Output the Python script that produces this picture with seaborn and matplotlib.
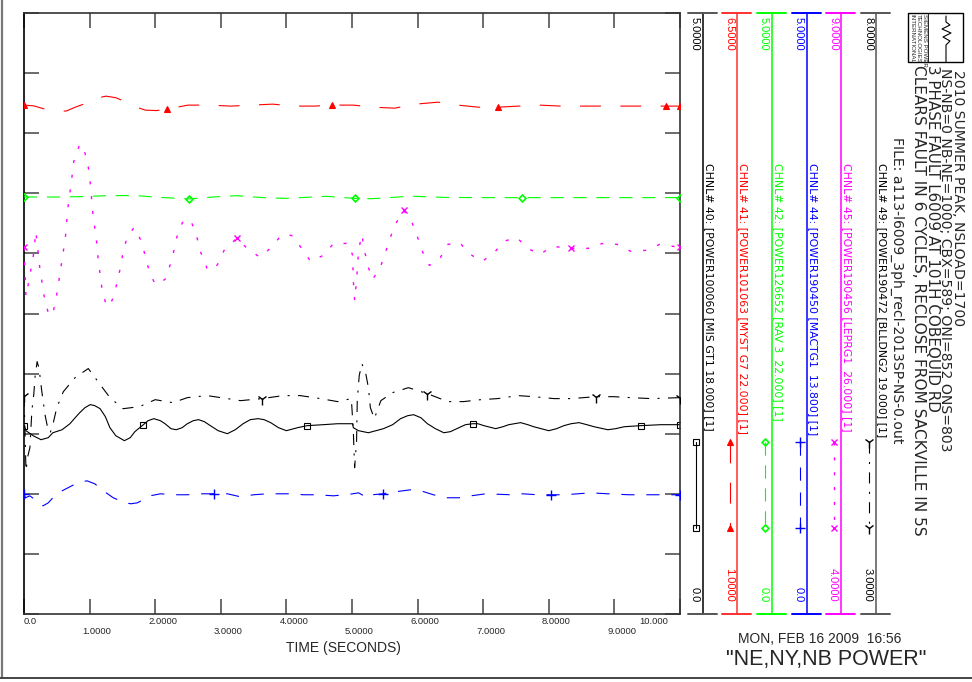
import numpy as np
import matplotlib
matplotlib.use("Agg")
from matplotlib import pyplot as plt
from matplotlib.transforms import blended_transform_factory, offset_copy
from matplotlib.patches import Rectangle
import seaborn as sns

sns.set_style("white")
plt.rcParams['font.family'] = ['Liberation Sans', 'DejaVu Sans']
plt.rcParams['lines.scale_dashes'] = False

# valores (tempo em segundos)
t_ch40 = [0.0, 0.03, 0.14, 0.26, 0.37, 0.44, 0.58, 0.70, 0.78, 0.85, 0.93, 1.01, 1.08, 1.16, 1.24,
          1.31, 1.40, 1.53, 1.62, 1.69, 1.82, 1.89, 1.98, 2.08, 2.15, 2.24, 2.32, 2.41, 2.49, 2.58,
          2.66, 2.75, 2.84, 2.96, 3.10, 3.22, 3.34, 3.45, 3.57, 3.66, 3.76, 3.88, 4.00, 4.17, 4.32,
          4.56, 4.78, 5.01, 5.02, 5.10, 5.25, 5.48, 5.62, 5.74, 5.85, 5.94, 6.05, 6.15, 6.27, 6.40,
          6.50, 6.63, 6.73, 6.84, 6.92, 7.01, 7.19, 7.30, 7.39, 7.57, 7.68, 7.77, 8.00, 8.12, 8.23,
          8.34, 8.46, 8.58, 8.69, 8.90, 9.02, 9.15, 9.40, 9.71, 10.0]
v_ch40 = [1.567, 1.525, 1.483, 1.450, 1.467, 1.508, 1.533, 1.583, 1.633, 1.675, 1.717, 1.742, 1.733,
          1.708, 1.642, 1.550, 1.483, 1.442, 1.467, 1.517, 1.575, 1.608, 1.625, 1.608, 1.583, 1.542,
          1.533, 1.550, 1.583, 1.608, 1.617, 1.600, 1.567, 1.525, 1.500, 1.533, 1.583, 1.617, 1.625,
          1.617, 1.592, 1.550, 1.525, 1.550, 1.567, 1.575, 1.583, 1.583, 1.550, 1.525, 1.508, 1.542,
          1.575, 1.625, 1.650, 1.658, 1.633, 1.583, 1.542, 1.508, 1.517, 1.550, 1.575, 1.583, 1.583,
          1.567, 1.542, 1.558, 1.575, 1.592, 1.575, 1.558, 1.525, 1.542, 1.567, 1.583, 1.592, 1.575,
          1.558, 1.533, 1.542, 1.558, 1.567, 1.575, 1.575]
mk_ch40 = [0.0, 1.82, 4.32, 6.84, 9.40, 10.0]

t_ch41 = [0.0, 0.15, 0.32, 0.49, 0.64, 0.79, 0.95, 1.10, 1.25, 1.40, 1.56, 1.71, 1.85, 2.02, 2.18,
          2.35, 2.50, 2.82, 3.15, 3.47, 3.79, 4.11, 4.43, 4.70, 5.02, 5.33, 5.65, 5.97, 6.31, 6.61,
          6.93, 7.22, 7.54, 7.86, 8.18, 8.52, 8.84, 9.15, 9.48, 9.79, 10.0]
v_ch41 = [5.657, 5.650, 5.620, 5.611, 5.602, 5.640, 5.675, 5.720, 5.739, 5.725, 5.684, 5.640, 5.611,
          5.607, 5.620, 5.640, 5.657, 5.657, 5.648, 5.657, 5.666, 5.648, 5.648, 5.657, 5.657, 5.638,
          5.629, 5.666, 5.684, 5.657, 5.638, 5.638, 5.648, 5.657, 5.648, 5.648, 5.648, 5.648, 5.648,
          5.648, 5.648]
mk_ch41 = [0.0, 2.18, 4.70, 7.22, 9.79, 10.0]

t_ch42 = [0.0, 0.50, 0.85, 1.30, 1.70, 2.10, 2.52, 2.90, 3.24, 3.70, 4.00, 4.60, 5.04, 5.30, 5.90,
          6.40, 7.00, 7.59, 8.50, 10.0]
v_ch42 = [3.469, 3.469, 3.472, 3.481, 3.481, 3.465, 3.453, 3.470, 3.480, 3.462, 3.458, 3.475, 3.458,
          3.455, 3.476, 3.466, 3.464, 3.464, 3.464, 3.464]
mk_ch42 = [0.0, 2.52, 5.04, 7.59, 10.0]

t_ch44 = [0.0, 0.02, 0.09, 0.17, 0.21, 0.29, 0.37, 0.44, 0.52, 0.67, 0.82, 0.96, 1.08, 1.21, 1.36,
          1.54, 1.63, 1.73, 1.92, 2.08, 2.31, 2.49, 2.69, 2.90, 3.10, 3.30, 3.50, 3.71, 4.06, 4.26,
          4.47, 4.72, 5.01, 5.10, 5.18, 5.24, 5.31, 5.47, 5.66, 5.89, 6.05, 6.24, 6.43, 6.63, 6.81,
          7.04, 7.42, 7.60, 7.83, 8.03, 8.23, 8.44, 8.64, 8.90, 9.22, 9.66, 10.0]
v_ch44 = [1.000, 0.967, 0.983, 0.950, 0.925, 0.900, 0.925, 0.967, 1.008, 1.050, 1.092, 1.108, 1.083,
          1.025, 0.967, 0.925, 0.917, 0.925, 0.983, 1.000, 0.992, 0.992, 1.000, 1.000, 1.000, 0.975,
          0.992, 1.000, 1.000, 0.992, 0.992, 0.983, 1.000, 1.008, 0.983, 0.967, 0.992, 1.000, 1.017,
          1.033, 1.025, 0.992, 0.967, 0.967, 0.983, 1.000, 0.992, 1.000, 0.992, 0.992, 0.992, 1.000,
          1.008, 1.000, 0.992, 0.992, 0.992]
mk_ch44 = [0.0, 2.90, 5.47, 8.03, 10.0]

t_ch45 = [0.0, 0.03, 0.09, 0.15, 0.18, 0.24, 0.31, 0.38, 0.44, 0.49, 0.56, 0.63, 0.67, 0.73, 0.76,
          0.84, 0.89, 0.93, 0.98, 1.01, 1.05, 1.08, 1.11, 1.13, 1.16, 1.19, 1.25, 1.30, 1.36, 1.42,
          1.47, 1.51, 1.57, 1.68, 1.79, 1.85, 1.91, 2.00, 2.15, 2.23, 2.29, 2.34, 2.43, 2.50, 2.56,
          2.64, 2.70, 2.79, 2.87, 2.95, 3.05, 3.24, 3.42, 3.60, 3.77, 3.92, 4.02, 4.11, 4.24, 4.37,
          4.56, 4.72, 4.95, 5.01, 5.02, 5.04, 5.07, 5.10, 5.15, 5.19, 5.24, 5.31, 5.42, 5.50, 5.57,
          5.65, 5.79, 5.92, 6.00, 6.08, 6.18, 6.34, 6.46, 6.64, 6.78, 6.98, 7.16, 7.31, 7.51, 7.68,
          7.86, 8.06, 8.34, 8.60, 8.82, 9.04, 9.25, 9.47, 9.69, 10.0]
v_ch45 = [7.050, 6.642, 6.817, 7.008, 7.183, 6.883, 6.633, 6.483, 6.500, 6.625, 6.875, 7.125, 7.383,
          7.633, 7.767, 7.892, 7.908, 7.833, 7.717, 7.583, 7.333, 7.208, 7.083, 6.950, 6.825, 6.700,
          6.575, 6.558, 6.633, 6.758, 6.883, 7.008, 7.133, 7.217, 7.100, 6.975, 6.850, 6.742, 6.783,
          6.908, 7.033, 7.158, 7.275, 7.283, 7.250, 7.125, 7.000, 6.875, 6.858, 6.908, 7.025, 7.125,
          7.033, 6.967, 7.050, 7.150, 7.158, 7.142, 7.033, 6.933, 6.983, 7.083, 7.083, 6.983, 6.775,
          6.608, 6.775, 7.025, 7.158, 7.025, 6.900, 6.783, 6.867, 6.992, 7.108, 7.233, 7.358, 7.250,
          7.133, 7.008, 6.900, 6.958, 7.075, 7.092, 7.000, 6.933, 7.000, 7.100, 7.133, 7.042, 6.992,
          7.058, 7.042, 7.042, 7.083, 7.075, 7.017, 7.025, 7.075, 7.050]
mk_ch45 = [0.0, 3.24, 5.79, 8.34, 10.0]

t_ch49 = [0.0, 0.015, 0.03, 0.06, 0.09, 0.12, 0.15, 0.17, 0.20, 0.23, 0.27, 0.32, 0.37, 0.40, 0.44,
          0.50, 0.60, 0.78, 0.98, 1.15, 1.31, 1.51, 1.76, 2.00, 2.27, 2.49, 2.79, 3.10, 3.30, 3.63,
          3.95, 4.21, 4.52, 4.78, 4.99, 5.02, 5.04, 5.07, 5.08, 5.11, 5.15, 5.21, 5.25, 5.28, 5.34,
          5.44, 5.62, 5.86, 6.15, 6.46, 6.70, 6.96, 7.22, 7.53, 7.77, 8.08, 8.34, 8.72, 8.99, 9.25,
          9.56, 10.0]
v_ch49 = [4.817, 4.525, 4.192, 4.317, 4.383, 4.692, 4.833, 4.983, 5.100, 5.042, 4.858, 4.658, 4.525,
          4.508, 4.575, 4.717, 4.850, 4.967, 5.042, 4.917, 4.800, 4.708, 4.725, 4.783, 4.758, 4.800,
          4.817, 4.792, 4.775, 4.792, 4.817, 4.817, 4.792, 4.767, 4.792, 4.525, 4.217, 4.442, 4.775,
          4.983, 5.083, 5.000, 4.883, 4.717, 4.625, 4.775, 4.842, 4.883, 4.833, 4.767, 4.767, 4.783,
          4.792, 4.817, 4.808, 4.792, 4.792, 4.808, 4.808, 4.800, 4.792, 4.800]
mk_ch49 = [0.0, 3.63, 6.15, 8.72, 10.0]

chan_nomes = ["CHNL# 40: [POWER100060 [MIS GT1 18.000] [1]",
              "CHNL# 41: [POWER101063 [MYST G7 22.000] [1]",
              "CHNL# 42: [POWER126652 [RAV 3  22.000] [1]",
              "CHNL# 44: [POWER190450 [MACTG1  13.800] [1]",
              "CHNL# 45: [POWER190456 [LEPRG1  26.000] [1]",
              "CHNL# 49: [POWER190472 [BLLDNG2 19.000] [1]"]
escala_min = [0.0, 1.0, 0.0, 0.0, 4.0, 3.0]
escala_max = [5.0, 6.5, 5.0, 5.0, 9.0, 8.0]
lbl_topo = ["5.0000", "6.5000", "5.0000", "5.0000", "9.0000", "8.0000"]
lbl_base = ["0.0", "1.0000", "0.0", "0.0", "4.0000", "3.0000"]
x_lbls = ["0.0", "1.0000", "2.0000", "3.0000", "4.0000", "5.0000",
          "6.0000", "7.0000", "8.0000", "9.0000", "10.000"]
cabecalho = ["2010 SUMMER PEAK, NSLOAD=1700",
             "NS-NB=0 NB-NE=1000; CBX=589; ONI=852 ONS=803",
             "3 PHASE FAULT L6009 AT 101H COBEQUID RD",
             "CLEARS FAULT IN 6 CYCLES, RECLOSE FROM SACKVILLE IN 5S",
             "FILE: a113-l6009_3ph_recl-2013SP-NS-0.out"]
logo_txt = ["SIEMENS POWER", "TECHNOLOGIES", "INTERNATIONAL"]

series = [(t_ch40, v_ch40, mk_ch40), (t_ch41, v_ch41, mk_ch41), (t_ch42, v_ch42, mk_ch42),
          (t_ch44, v_ch44, mk_ch44), (t_ch45, v_ch45, mk_ch45), (t_ch49, v_ch49, mk_ch49)]

# estilos
cores = ['black', 'red', '#00ff00', 'blue', 'magenta', 'black']
estilos = ['-', (0, (15, 14)), (0, (9.5, 7)), (0, (9.5, 8.5)), (0, (2.2, 8.5)), (0, (8, 6, 1.5, 6))]
larguras = [0.8, 0.8, 0.8, 0.8, 1.0, 0.8]
marcadores = [dict(marker='s', markersize=5, markerfacecolor='none', markeredgewidth=0.8),
              dict(marker='^', markersize=4.5, markeredgewidth=0.8),
              dict(marker='D', markersize=3.5, markerfacecolor='none', markeredgewidth=1.2),
              dict(marker='+', markersize=7, markeredgewidth=1.0),
              dict(marker='x', markersize=5, markeredgewidth=1.0),
              dict(marker='1', markersize=8, markeredgewidth=1.0)]
fonte_larga = ['DejaVu Sans']

W, H = 972, 682
fig = plt.figure(figsize=(W / 100, H / 100), dpi=100)
fig.patch.set_facecolor('white')

ax = fig.add_axes([24 / W, (H - 614) / H, (680 - 24) / W, (614 - 13) / H])
eixos = [ax]
for k in range(1, 6):
    eixos.append(ax.twinx())

for k, (tt, vv, mk) in enumerate(series):
    a = eixos[k]
    tt = np.array(tt)
    idx = [int(np.argmin(np.abs(tt - m))) for m in mk]
    sns.lineplot(x=tt, y=np.array(vv), ax=a, color=cores[k], linewidth=larguras[k], linestyle=estilos[k],
                 markevery=idx, markeredgecolor=cores[k], estimator=None, errorbar=None,
                 sort=False, **marcadores[k])
    a.set_ylim(escala_min[k], escala_max[k])
    if k > 0:
        a.set_yticks([])
        for sp in a.spines.values():
            sp.set_visible(False)
        a.tick_params(right=False, labelright=False)

ax.set_xlim(0, 10)
ax.set_xticks(range(11))
ax.set_yticks(np.arange(0, 5.01, 0.5))
ax.yaxis.set_ticks_position('both')
ax.tick_params(axis='both', direction='in', length=11, width=1.1, color='#444',
               top=True, bottom=True, left=True, right=True, labelbottom=False, labelleft=False)
for nome, sp in ax.spines.items():
    sp.set_color('#333')
    sp.set_linewidth(1.2)
ax.spines['left'].set_color('black')
ax.set_xlabel('')
ax.set_ylabel('')

# rotulos do eixo x em duas linhas
trans = blended_transform_factory(ax.transData, ax.transAxes)
for i, s in enumerate(x_lbls):
    dy = -7 if i % 2 == 0 else -17
    if i == 0:
        dx, ha = 0, 'left'
    elif i == len(x_lbls) - 1:
        dx, ha = -12, 'right'
    else:
        dx, ha = -7, 'left'
    tr = offset_copy(trans, fig=fig, x=dx * 0.72, y=dy * 0.72, units='points')
    ax.text(i, 0, s, transform=tr, ha=ha, va='center', fontsize=6.8)

# camada por cima em pixels
ov = fig.add_axes([0, 0, 1, 1], zorder=5)
ov.set_xlim(0, W)
ov.set_ylim(H, 0)
ov.axis('off')

ov.text(343, 648, "TIME (SECONDS)", ha='center', va='center', fontsize=10)

painel_x = [703, 737, 772, 807, 841, 876]
cor_linha = ['black', '#ff3030', '#00ff00', 'blue', 'magenta', '#555555']
for k in range(6):
    x = painel_x[k]
    ov.plot([x, x], [13, 614], color=cor_linha[k], lw=1.1)
    for yy in (13, 614):
        ov.plot([x - 15, x + 14], [yy, yy], color=cor_linha[k] if k not in (0, 5) else '#555555', lw=1.4)
    ov.text(x - 8, 17, lbl_topo[k], rotation=-90, rotation_mode='anchor', ha='left', va='center',
            fontsize=8, color=cores[k])
    ov.text(x - 8, 602, lbl_base[k], rotation=-90, rotation_mode='anchor', ha='right', va='center',
            fontsize=8, color=cores[k])
    ov.text(x + 6, 163, chan_nomes[k], rotation=-90, rotation_mode='anchor', ha='left', va='center',
            fontsize=7.8, color=cores[k], family=fonte_larga)
    ov.plot([x - 7, x - 7], [442, 528], color=cores[k], lw=larguras[k], linestyle=estilos[k])
    ov.plot([x - 7, x - 7], [442, 528], color=cores[k], linestyle='none',
            markeredgecolor=cores[k], **marcadores[k])

# cabecalho
hx = [958, 945, 932, 918, 897]
hy = [70, 68, 65, 65, 137]
hs = [10.1, 10.1, 10.9, 11.1, 10.1]
for s, x, y, fs in zip(cabecalho, hx, hy, hs):
    ov.text(x, y, s, rotation=-90, rotation_mode='anchor', ha='left', va='center', fontsize=fs,
            family=fonte_larga)

# logo
ov.add_patch(Rectangle((908, 13), 55, 49, fill=False, lw=1, ec='black'))
ov.plot([928, 928], [13, 62], color='black', lw=0.6)
for s, x in zip(logo_txt, [924, 918, 912]):
    ov.text(x, 14, s, rotation=-90, rotation_mode='anchor', ha='left', va='center', fontsize=4.4)
ov.plot([946, 946, 950, 942, 951, 943, 950, 946, 946], [16, 22, 25, 29, 33, 37, 41, 45, 62],
        color='black', lw=0.8)

ov.text(820, 639, "MON, FEB 16 2009  16:56", ha='center', va='center', fontsize=10)
ov.text(826, 660, '"NE,NY,NB POWER"', ha='center', va='center', fontsize=15.5)

# moldura
ov.plot([1.5, 1.5], [0, 678], color='#777777', lw=1.6, clip_on=False)
ov.plot([0, W], [678, 678], color='#444444', lw=1.4, clip_on=False)

plt.savefig('out.png', dpi=100, facecolor='white')
